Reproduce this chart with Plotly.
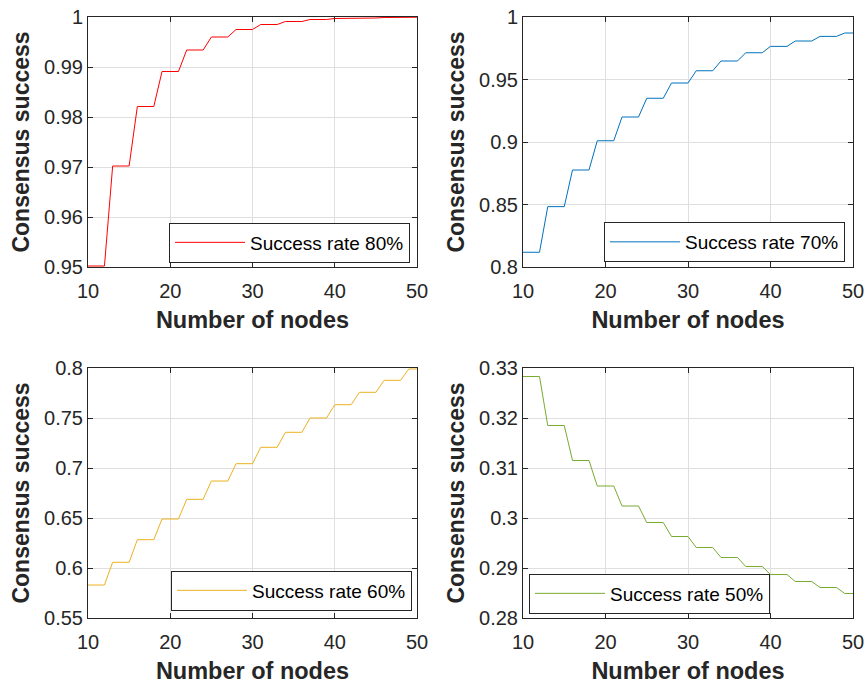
import plotly.graph_objects as go

# ---------------- data ----------------
nodes = list(range(10, 51))

rate80 = [0.9502, 0.9502, 0.9502, 0.9702, 0.9702, 0.9702, 0.9821, 0.9821, 0.9821,
          0.9891, 0.9891, 0.9891, 0.9934, 0.9934, 0.9934, 0.9960, 0.9960, 0.9960,
          0.9975, 0.9975, 0.9975, 0.9985, 0.9985, 0.9985, 0.9991, 0.9991, 0.9991,
          0.9995, 0.9995, 0.9995, 0.9997, 0.9997, 0.9997, 0.9998, 0.9998, 0.9998,
          0.9999, 0.9999, 0.9999, 0.99995, 0.99995]

rate70 = [0.8118, 0.8118, 0.8118, 0.8483, 0.8483, 0.8483, 0.8776, 0.8776, 0.8776,
          0.9010, 0.9010, 0.9010, 0.9200, 0.9200, 0.9200, 0.9350, 0.9350, 0.9350,
          0.9472, 0.9472, 0.9472, 0.9570, 0.9570, 0.9570, 0.9648, 0.9648, 0.9648,
          0.9714, 0.9714, 0.9714, 0.9765, 0.9765, 0.9765, 0.9808, 0.9808, 0.9808,
          0.9845, 0.9845, 0.9845, 0.9872, 0.9872]

rate60 = [0.5830, 0.5830, 0.5830, 0.6057, 0.6057, 0.6057, 0.6283, 0.6283, 0.6283,
          0.6490, 0.6490, 0.6490, 0.6687, 0.6687, 0.6687, 0.6870, 0.6870, 0.6870,
          0.7043, 0.7043, 0.7043, 0.7207, 0.7207, 0.7207, 0.7357, 0.7357, 0.7357,
          0.7500, 0.7500, 0.7500, 0.7633, 0.7633, 0.7633, 0.7757, 0.7757, 0.7757,
          0.7877, 0.7877, 0.7877, 0.7990, 0.7990]

rate50 = [0.3283, 0.3283, 0.3283, 0.3185, 0.3185, 0.3185, 0.3115, 0.3115, 0.3115,
          0.3064, 0.3064, 0.3064, 0.3024, 0.3024, 0.3024, 0.2991, 0.2991, 0.2991,
          0.2963, 0.2963, 0.2963, 0.2941, 0.2941, 0.2941, 0.2921, 0.2921, 0.2921,
          0.2903, 0.2903, 0.2903, 0.2887, 0.2887, 0.2887, 0.2873, 0.2873, 0.2873,
          0.2861, 0.2861, 0.2861, 0.2849, 0.2849]

series_names = ["Success rate 80%", "Success rate 70%", "Success rate 60%", "Success rate 50%"]

x_ticks = [10, 20, 30, 40, 50]
x_ticklabels = ["10", "20", "30", "40", "50"]

y_ticks80 = [0.95, 0.96, 0.97, 0.98, 0.99, 1.0]
y_labels80 = ["0.95", "0.96", "0.97", "0.98", "0.99", "1"]
y_ticks70 = [0.8, 0.85, 0.9, 0.95, 1.0]
y_labels70 = ["0.8", "0.85", "0.9", "0.95", "1"]
y_ticks60 = [0.55, 0.6, 0.65, 0.7, 0.75, 0.8]
y_labels60 = ["0.55", "0.6", "0.65", "0.7", "0.75", "0.8"]
y_ticks50 = [0.28, 0.29, 0.3, 0.31, 0.32, 0.33]
y_labels50 = ["0.28", "0.29", "0.3", "0.31", "0.32", "0.33"]

x_title = "Number of nodes"
y_title = "Consensus success"

# ---------------- styling ----------------
W, H = 867, 684
FONT = "Liberation Sans, Arial, Helvetica, sans-serif"
TXT = "#262626"
colors = ["#FF0000", "#0072BD", "#EDB120", "#77AC30"]

# pixel boxes of the four axes (left, right, top, bottom)
boxes = [(88, 417, 17, 267), (523, 853, 17, 267), (88, 417, 368, 618), (523, 853, 368, 618)]

panels = [
    (rate80, y_ticks80, y_labels80),
    (rate70, y_ticks70, y_labels70),
    (rate60, y_ticks60, y_labels60),
    (rate50, y_ticks50, y_labels50),
]

fig = go.Figure()
layout = dict(
    width=W, height=H, autosize=False,
    margin=dict(l=0, r=0, t=0, b=0, pad=0, autoexpand=False),
    paper_bgcolor="white", plot_bgcolor="white",
    font=dict(family=FONT, color=TXT, size=20),
)

# legend placements (paper coords) : x, y-center, xanchor
legend_pos = [
    (410 / W, 1 - 242.5 / H, "right"),
    (845 / W, 1 - 242 / H, "right"),
    (412 / W, 1 - 590.5 / H, "right"),
    (529 / W, 1 - 593.5 / H, "left"),
]

for i, ((yvals, yt, yl), (l, r, t, b)) in enumerate(zip(panels, boxes)):
    k = "" if i == 0 else str(i + 1)
    lg = "legend" + k
    fig.add_trace(go.Scatter(
        x=nodes, y=yvals, mode="lines", name=series_names[i],
        line=dict(color=colors[i], width=1),
        xaxis="x" + k, yaxis="y" + k, legend=lg, showlegend=True,
    ))
    common = dict(
        showline=True, linecolor=TXT, linewidth=1, mirror="ticks",
        ticks="inside", ticklen=5, tickcolor=TXT, tickwidth=1,
        showgrid=True, gridcolor="#DFDFDF", gridwidth=1, zeroline=False,
        tickfont=dict(family=FONT, size=20, color=TXT), automargin=False,
    )
    layout["xaxis" + k] = dict(
        common, domain=[l / W, r / W], range=[10, 50], anchor="y" + k,
        tickvals=x_ticks, ticktext=x_ticklabels, ticklabelstandoff=6,
        title=dict(text="<b>" + x_title + "</b>", font=dict(family=FONT, size=23.5, color=TXT), standoff=10),
    )
    layout["yaxis" + k] = dict(
        common, domain=[1 - b / H, 1 - t / H], range=[yt[0], yt[-1]], anchor="x" + k,
        tickvals=yt, ticktext=yl,
        title=dict(text="<b>" + y_title + "</b>", font=dict(family=FONT, size=23, color=TXT), standoff=8),
    )
    lx, ly, xa = legend_pos[i]
    layout[lg] = dict(
        x=lx, y=ly, xanchor=xa, yanchor="middle", xref="paper", yref="paper",
        bgcolor="white", bordercolor=TXT, borderwidth=1,
        font=dict(family=FONT, size=19, color="#000000"),
        itemwidth=70, tracegroupgap=0,
    )

fig.update_layout(**layout)
fig.write_html("out.html")
